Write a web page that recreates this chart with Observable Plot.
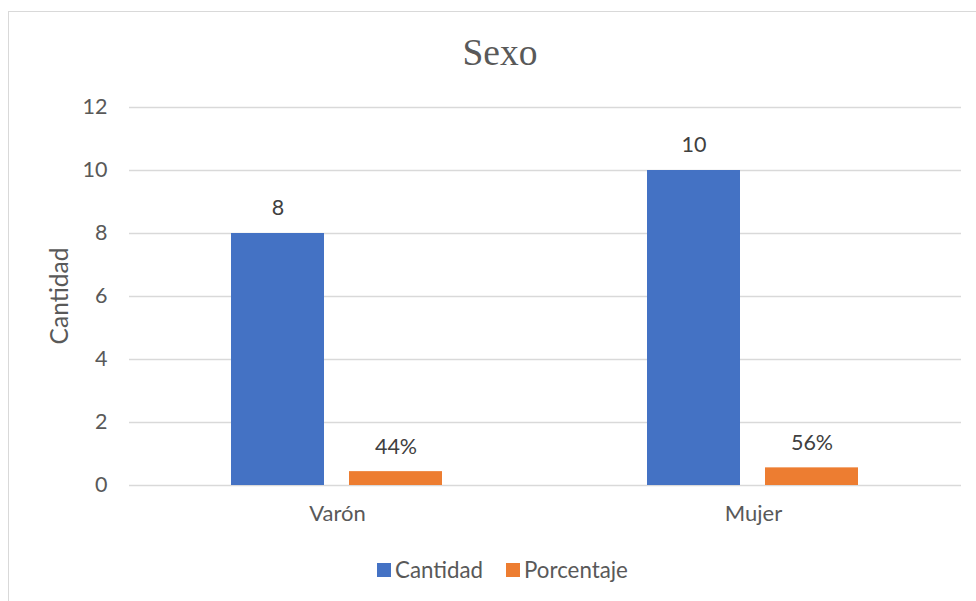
<!DOCTYPE html>
<html>
<head>
<meta charset="utf-8">
<script src="https://cdn.jsdelivr.net/npm/d3@7"></script>
<script src="https://cdn.jsdelivr.net/npm/@observablehq/plot@0.6"></script>
<style>
  html, body { margin: 0; padding: 0; background: #fff; width: 976px; height: 601px; overflow: hidden; }
  #wrap { position: relative; width: 976px; height: 601px; font-family: Lato, "Open Sans", sans-serif; color: #595959; }
  #border { position: absolute; left: 8px; top: 11px; width: 1100px; height: 800px; border: 1.5px solid #d9d9d9; }
  #title { position: absolute; left: 0; top: 31px; width: 100%; text-align: center; font-family: "Liberation Serif", "DejaVu Serif", serif; font-size: 37.5px; color: #595959; margin-left: 12px; }
  #ylab { position: absolute; left: 58px; top: 296px; transform: translate(-50%, -50%) rotate(-90deg); font-size: 24.5px; white-space: nowrap; }
  #chart { position: absolute; left: 0; top: 0; }
  #legend { position: absolute; left: 377px; top: 556px; display: flex; align-items: center; font-size: 22.3px; white-space: nowrap; }
  .sw { display: inline-block; width: 14px; height: 14px; margin-right: 4px; }
</style>
</head>
<body>
<div id="wrap">
  <div id="border"></div>
  <div id="title">Sexo</div>
  <div id="ylab">Cantidad</div>
  <div id="chart"></div>
  <div id="legend"></div>
</div>
<script>
const categories = ["Varón", "Mujer"];
const seriesNames = ["Cantidad", "Porcentaje"];
const cantidad = [8, 10];
const porcentaje = [0.44, 0.56];
const yTicks = [0, 2, 4, 6, 8, 10, 12];
const colors = ["#4472c4", "#ed7d31"];

const rows = [];
categories.forEach((c, i) => {
  rows.push({cat: c, series: "Cantidad", value: cantidad[i], label: String(cantidad[i])});
  rows.push({cat: c, series: "Porcentaje", value: porcentaje[i], label: d3.format(".0%")(porcentaje[i])});
});

const chart = Plot.plot({
  width: 976,
  height: 601,
  marginTop: 107,
  marginBottom: 116,
  marginLeft: 129,
  marginRight: 15,
  style: {fontFamily: "Lato, 'Open Sans', sans-serif", fontSize: "22px", color: "#595959", background: "transparent"},
  fx: {domain: categories, padding: 0, label: null, axis: "bottom", tickSize: 0, tickPadding: 20},
  x: {domain: seriesNames, paddingInner: 0.211, paddingOuter: 0.861, axis: null},
  y: {domain: [0, 12], ticks: yTicks, label: null},
  color: {domain: seriesNames, range: colors},
  marks: [
    Plot.ruleY(yTicks, {stroke: "#d9d9d9", strokeWidth: 1.5}),
    Plot.barY(rows, {fx: "cat", x: "series", y: "value", fill: "series"}),
    Plot.text(rows, {fx: "cat", x: "series", y: "value", text: "label", dy: -25, fill: "#404040", fontSize: 21.5}),
    Plot.axisY({ticks: yTicks, tickSize: 0, tickPadding: 22, label: null, fontSize: 21.5})
  ]
});
document.getElementById("chart").appendChild(chart);

const legend = document.getElementById("legend");
seriesNames.forEach((s, i) => {
  const item = document.createElement("span");
  item.style.display = "inline-flex";
  item.style.alignItems = "center";
  item.style.marginRight = i === 0 ? "23px" : "0";
  item.innerHTML = `<span class="sw" style="background:${colors[i]}"></span>${s}`;
  legend.appendChild(item);
});
</script>
</body>
</html>
